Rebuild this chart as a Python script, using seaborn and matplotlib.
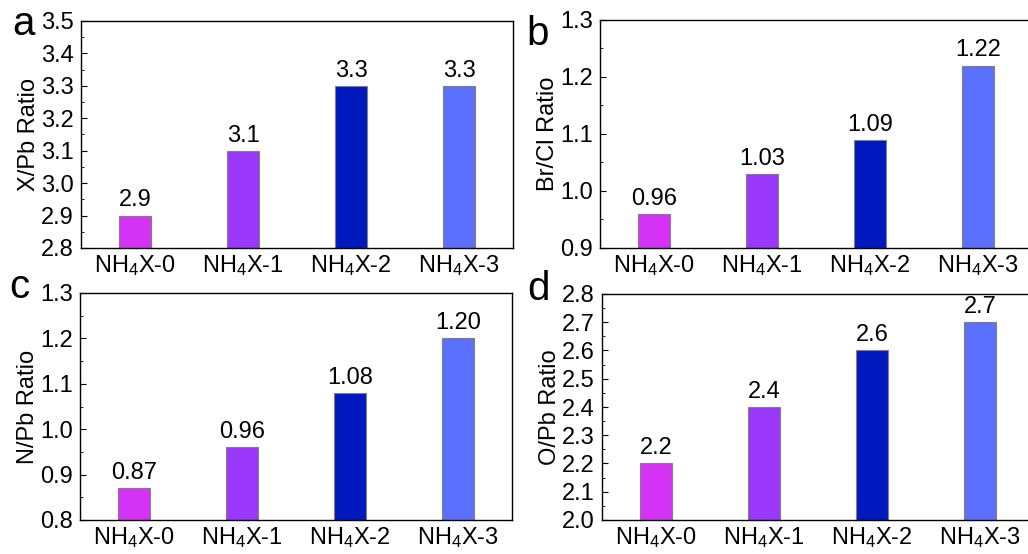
import matplotlib
matplotlib.use("Agg")
import matplotlib.pyplot as plt
import seaborn as sns
import numpy as np
from matplotlib.ticker import MultipleLocator

sns.set_style("white")
plt.rcParams['font.family'] = ['Liberation Sans', 'DejaVu Sans']
plt.rcParams['mathtext.fontset'] = 'custom'
plt.rcParams['mathtext.rm'] = 'Liberation Sans'
plt.rcParams['mathtext.it'] = 'Liberation Sans'
plt.rcParams['mathtext.default'] = 'regular'
plt.rcParams['text.color'] = 'black'
plt.rcParams['axes.labelcolor'] = 'black'
plt.rcParams['xtick.color'] = 'black'
plt.rcParams['ytick.color'] = 'black'

categories = [r'NH$_4$X-0', r'NH$_4$X-1', r'NH$_4$X-2', r'NH$_4$X-3']
colors = ['#D433F5', '#9B38FB', '#0019BE', '#5B70FF']

x_pb = [2.9, 3.1, 3.3, 3.3]
br_cl = [0.96, 1.03, 1.09, 1.22]
n_pb = [0.87, 0.96, 1.08, 1.20]
o_pb = [2.2, 2.4, 2.6, 2.7]

labels_a = ['2.9', '3.1', '3.3', '3.3']
labels_b = ['0.96', '1.03', '1.09', '1.22']
labels_c = ['0.87', '0.96', '1.08', '1.20']
labels_d = ['2.2', '2.4', '2.6', '2.7']

W, H = 1028, 554
fig = plt.figure(figsize=(W / 100, H / 100), dpi=100)


def make_ax(l, r, t, b):
    return fig.add_axes([l / W, 1 - b / H, (r - l) / W, (b - t) / H])


panels = [
    dict(box=(81, 513, 21, 248), vals=x_pb, labs=labels_a, ylim=(2.8, 3.5), ylabel='X/Pb Ratio',
         letter='a', lpos=(12, 35)),
    dict(box=(600, 1032, 20, 248), vals=br_cl, labs=labels_b, ylim=(0.9, 1.3), ylabel='Br/Cl Ratio',
         letter='b', lpos=(526, 45)),
    dict(box=(80, 512, 293, 520), vals=n_pb, labs=labels_c, ylim=(0.8, 1.3), ylabel='N/Pb Ratio',
         letter='c', lpos=(9, 298)),
    dict(box=(602, 1034, 294, 520), vals=o_pb, labs=labels_d, ylim=(2.0, 2.8), ylabel='O/Pb Ratio',
         letter='d', lpos=(527, 300)),
]

for p in panels:
    ax = make_ax(*p['box'])
    sns.barplot(x=categories, y=p['vals'], hue=categories, palette=colors, width=0.3,
                legend=False, edgecolor='#808080', linewidth=0.8, ax=ax, saturation=1)
    ax.set_xlim(-0.5, 3.5)
    ax.set_ylim(*p['ylim'])
    ax.yaxis.set_major_locator(MultipleLocator(0.1))
    ax.yaxis.set_minor_locator(MultipleLocator(0.05))
    ax.yaxis.set_major_formatter(matplotlib.ticker.FormatStrFormatter('%.1f'))
    ax.tick_params(axis='y', which='major', direction='in', length=4, width=0.8, labelsize=17, pad=5,
                   left=True, right=False)
    ax.tick_params(axis='y', which='minor', direction='in', length=2, width=0.6, left=True, right=False)
    ax.tick_params(axis='x', which='both', length=0, labelsize=17, pad=4)
    ax.set_ylabel(p['ylabel'], fontsize=17, labelpad=1)
    ax.set_xlabel('')
    for s in ax.spines.values():
        s.set_visible(True)
        s.set_color('black')
        s.set_linewidth(1.0)
    for c, lab in zip(ax.containers, p['labs']):
        ax.bar_label(c, labels=[lab], padding=3, fontsize=17)
    fig.text(p['lpos'][0] / W, 1 - p['lpos'][1] / H, p['letter'], fontsize=29,
             ha='left', va='baseline', fontweight='light')

fig.savefig('out.png', dpi=100)
